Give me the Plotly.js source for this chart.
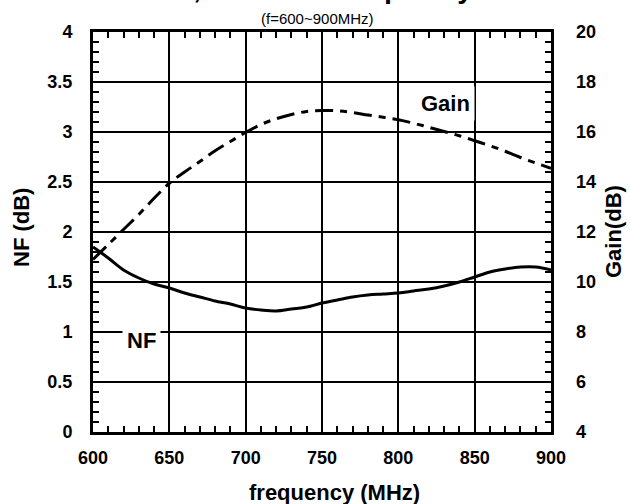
<!DOCTYPE html>
<html>
<head>
<meta charset="utf-8">
<script src="https://cdn.plot.ly/plotly-3.0.1.min.js"></script>
<style>html,body{margin:0;padding:0;background:#fff;}#chart{width:630px;height:504px;}</style>
</head>
<body>
<div id="chart"></div>
<script>
const freq = [600,610,620,630,640,650,660,670,680,690,700,710,720,730,740,750,760,770,780,790,800,810,820,830,840,850,860,870,880,890,900];
const nf = [1.85,1.74,1.62,1.54,1.48,1.44,1.39,1.35,1.31,1.28,1.24,1.22,1.21,1.23,1.25,1.29,1.32,1.35,1.37,1.38,1.39,1.41,1.43,1.46,1.50,1.55,1.60,1.63,1.65,1.65,1.62];
const gain = [10.9,11.5,12.1,12.7,13.35,13.95,14.4,14.82,15.25,15.62,15.98,16.3,16.53,16.7,16.82,16.86,16.85,16.78,16.68,16.59,16.49,16.35,16.19,16.02,15.85,15.65,15.45,15.23,14.98,14.76,14.55];
const xTicks = [600,650,700,750,800,850,900];
const nfTicks = [0,0.5,1,1.5,2,2.5,3,3.5,4];
const gainTicks = [4,6,8,10,12,14,16,18,20];

const FONT = '"Liberation Sans", Arial, sans-serif';
const tickFont = {family: FONT, size: 18, color: '#000', weight: 'bold'};

const traces = [
  {x: freq, y: nf, type: 'scatter', mode: 'lines', name: 'NF', xaxis: 'x', yaxis: 'y',
   line: {color: '#000', width: 3, shape: 'spline'}},
  {x: freq, y: gain, type: 'scatter', mode: 'lines', name: 'Gain', xaxis: 'x', yaxis: 'y2',
   line: {color: '#000', width: 3, shape: 'spline', dash: '18px,7px,7px,7px'}}
];

const layout = {
  width: 630, height: 504,
  margin: {l: 93, r: 79, t: 32, b: 72, pad: 0},
  paper_bgcolor: '#fff', plot_bgcolor: '#fff',
  showlegend: false,
  font: {family: FONT, color: '#000'},
  xaxis: {
    range: [600, 900], tickvals: xTicks, ticktext: xTicks.map(String),
    showgrid: true, gridcolor: '#000', gridwidth: 2,
    showline: true, linecolor: '#000', linewidth: 3, mirror: 'ticks',
    ticks: 'inside', ticklen: 0, zeroline: false,
    minor: {dtick: 10, ticks: 'inside', ticklen: 6, tickwidth: 2, tickcolor: '#000', showgrid: false},
    tickfont: tickFont, ticklabelstandoff: 7, fixedrange: true
  },
  yaxis: {
    range: [0, 4], tickvals: nfTicks, ticktext: nfTicks.map(String),
    showgrid: true, gridcolor: '#000', gridwidth: 2,
    showline: true, linecolor: '#000', linewidth: 3, mirror: 'ticks',
    ticks: 'inside', ticklen: 0, zeroline: false,
    minor: {dtick: 0.1, ticks: 'inside', ticklen: 6, tickwidth: 2, tickcolor: '#000', showgrid: false},
    tickfont: tickFont, ticklabelstandoff: 14, fixedrange: true
  },
  yaxis2: {
    range: [4, 20], tickvals: gainTicks, ticktext: gainTicks.map(String),
    overlaying: 'y', side: 'right', showgrid: false, zeroline: false,
    showline: false, ticks: '', tickfont: tickFont, ticklabelstandoff: 24, fixedrange: true
  },
  annotations: [
    {text: 'NF, Gain v.s. Frequency', xref: 'paper', yref: 'paper', x: 0.486, y: 1, yanchor: 'middle', xanchor: 'center',
     yshift: 44, showarrow: false, font: {family: FONT, size: 28, color: '#000', weight: 'bold'}},
    {text: '(f=600~900MHz)', xref: 'paper', yref: 'paper', x: 0.491, y: 1, yanchor: 'middle', xanchor: 'center',
     yshift: 14, showarrow: false, font: {family: FONT, size: 15, color: '#000'}},
    {text: 'frequency (MHz)', xref: 'paper', yref: 'paper', x: 0.528, y: 0, yanchor: 'middle', xanchor: 'center',
     yshift: -60, showarrow: false, font: {family: FONT, size: 22, color: '#000', weight: 'bold'}},
    {text: 'NF (dB)', xref: 'paper', yref: 'paper', x: 0, y: 0.51, xanchor: 'center', yanchor: 'middle',
     xshift: -72, textangle: -90, showarrow: false, font: {family: FONT, size: 22, color: '#000', weight: 'bold'}},
    {text: 'Gain(dB)', xref: 'paper', yref: 'paper', x: 1, y: 0.5, xanchor: 'center', yanchor: 'middle',
     xshift: 62, textangle: -90, showarrow: false, font: {family: FONT, size: 22, color: '#000', weight: 'bold'}},
    {text: 'Gain', xref: 'x', yref: 'y', x: 831, y: 3.29, showarrow: false, bgcolor: '#fff', borderpad: 4,
     font: {family: FONT, size: 22, color: '#000', weight: 'bold'}},
    {text: 'NF', xref: 'x', yref: 'y', x: 632, y: 0.92, showarrow: false, bgcolor: '#fff', borderpad: 4,
     font: {family: FONT, size: 22, color: '#000', weight: 'bold'}}
  ]
};

Plotly.newPlot('chart', traces, layout, {staticPlot: true, displayModeBar: false});
</script>
</body>
</html>
